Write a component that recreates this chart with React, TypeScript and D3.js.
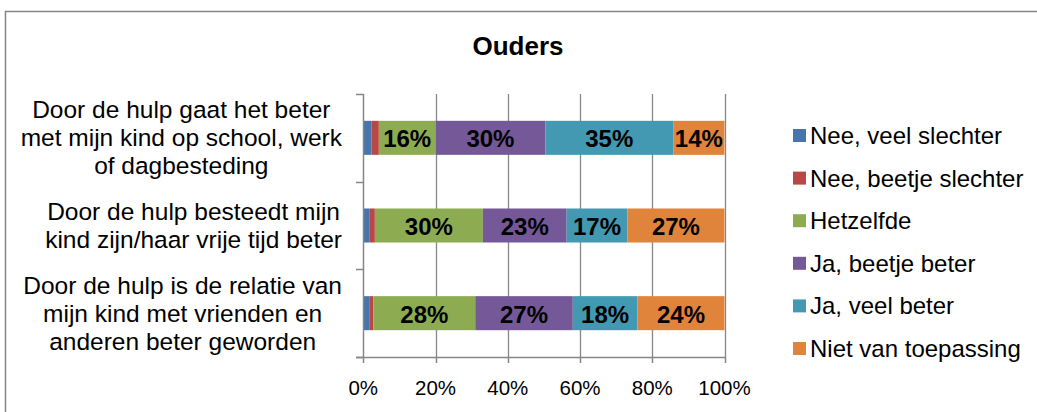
import React, { useEffect, useRef } from "react";
import * as d3 from "d3";

const title = "Ouders";
const categories = [
  "Door de hulp gaat het beter met mijn kind op school, werk of dagbesteding",
  "Door de hulp besteedt mijn kind zijn/haar vrije tijd beter",
  "Door de hulp is de relatie van mijn kind met vrienden en anderen beter geworden",
];
const categoryLines = [
  ["Door de hulp gaat het beter", "met mijn kind op school, werk", "of dagbesteding"],
  ["Door de hulp besteedt mijn", "kind zijn/haar vrije tijd beter"],
  ["Door de hulp is de relatie van", "mijn kind met vrienden en", "anderen beter geworden"],
];
const seriesNames = [
  "Nee, veel slechter",
  "Nee, beetje slechter",
  "Hetzelfde",
  "Ja, beetje beter",
  "Ja, veel beter",
  "Niet van toepassing",
];
const neeVeelSlechter = [2.3, 1.8, 1.8];
const neeBeetjeSlechter = [2.0, 1.4, 1.0];
const hetzelfde = [15.7, 29.9, 28.2];
const jaBeetjeBeter = [30.4, 23.2, 27.0];
const jaVeelBeter = [35.4, 16.8, 17.9];
const nietVanToepassing = [14.2, 26.9, 24.1];
const seriesColors = ["#4675AE", "#B84745", "#8DAC52", "#745898", "#4299B1", "#E0843C"];
const xTicks = [0, 20, 40, 60, 80, 100];

const W = 1037;
const H = 412;
const FONT = "'Liberation Sans', Arial, sans-serif";

export default function App() {
  const ref = useRef<SVGSVGElement | null>(null);

  useEffect(() => {
    const svg = d3.select(ref.current);
    svg.selectAll("*").remove();

    const series = [neeVeelSlechter, neeBeetjeSlechter, hetzelfde, jaBeetjeBeter, jaVeelBeter, nietVanToepassing];
    const table = categories.map((c, i) => {
      const row: any = { cat: c };
      seriesNames.forEach((s, j) => (row[s] = series[j][i]));
      return row;
    });
    const stacked = d3.stack().keys(seriesNames)(table);

    const x = d3.scaleLinear().domain([0, 100]).range([363.3, 724.5]);
    const plotTop = 94;
    const plotBottom = 357;
    const y = d3
      .scaleBand<string>()
      .domain(categories)
      .range([plotTop, plotBottom])
      .paddingInner(0.612)
      .paddingOuter(0.306);

    // border
    svg
      .append("rect")
      .attr("x", 5.5)
      .attr("y", 11.5)
      .attr("width", W)
      .attr("height", H)
      .attr("fill", "#fff")
      .attr("stroke", "#868686")
      .attr("stroke-width", 1.5);

    // title
    svg
      .append("text")
      .attr("x", 518)
      .attr("y", 46)
      .attr("text-anchor", "middle")
      .attr("dominant-baseline", "central")
      .attr("font-family", FONT)
      .attr("font-weight", "bold")
      .attr("font-size", 26)
      .attr("fill", "#000")
      .text(title);

    // gridlines
    svg
      .append("g")
      .selectAll("line")
      .data(xTicks.filter((t) => t > 0))
      .join("line")
      .attr("x1", (d) => Math.round(x(d)) + 0.5)
      .attr("x2", (d) => Math.round(x(d)) + 0.5)
      .attr("y1", plotTop)
      .attr("y2", plotBottom)
      .attr("stroke", "#868686")
      .attr("stroke-width", 1.3);

    // bars
    const g = svg.append("g");
    stacked.forEach((layer, j) => {
      g.append("g")
        .selectAll("rect")
        .data(layer)
        .join("rect")
        .attr("x", (d) => x(d[0]))
        .attr("width", (d) => x(d[1]) - x(d[0]))
        .attr("y", (d) => y((d as any).data.cat)!)
        .attr("height", y.bandwidth())
        .attr("fill", seriesColors[j]);
    });

    // data labels
    stacked.forEach((layer) => {
      g.append("g")
        .selectAll("text")
        .data(layer.filter((d) => d[1] - d[0] >= 10))
        .join("text")
        .attr("x", (d) => (x(d[0]) + x(d[1])) / 2)
        .attr("y", (d) => y((d as any).data.cat)! + y.bandwidth() / 2 + 1)
        .attr("text-anchor", "middle")
        .attr("dominant-baseline", "central")
        .attr("font-family", FONT)
        .attr("font-weight", "bold")
        .attr("font-size", 24)
        .attr("fill", "#000")
        .text((d) => `${Math.round(d[1] - d[0])}%`);
    });

    // axes
    const axisColor = "#868686";
    svg
      .append("line")
      .attr("x1", 363.5)
      .attr("x2", 363.5)
      .attr("y1", plotTop)
      .attr("y2", plotBottom)
      .attr("stroke", axisColor)
      .attr("stroke-width", 1.5);
    svg
      .append("line")
      .attr("x1", 356)
      .attr("x2", x(100) + 1)
      .attr("y1", plotBottom + 0.5)
      .attr("y2", plotBottom + 0.5)
      .attr("stroke", axisColor)
      .attr("stroke-width", 1.5);
    const catTicks = d3.range(categories.length + 1).map((i) => plotTop + i * y.step());
    svg
      .append("g")
      .selectAll("line")
      .data(catTicks)
      .join("line")
      .attr("x1", 356)
      .attr("x2", 364)
      .attr("y1", (d) => Math.round(d) + 0.5)
      .attr("y2", (d) => Math.round(d) + 0.5)
      .attr("stroke", axisColor)
      .attr("stroke-width", 1.5);
    svg
      .append("g")
      .selectAll("line")
      .data(xTicks)
      .join("line")
      .attr("x1", (d) => Math.round(x(d)) + 0.5)
      .attr("x2", (d) => Math.round(x(d)) + 0.5)
      .attr("y1", plotBottom)
      .attr("y2", plotBottom + 6)
      .attr("stroke", axisColor)
      .attr("stroke-width", 1.5);
    svg
      .append("g")
      .selectAll("text")
      .data(xTicks)
      .join("text")
      .attr("x", (d) => x(d))
      .attr("y", 387)
      .attr("text-anchor", "middle")
      .attr("dominant-baseline", "central")
      .attr("font-family", FONT)
      .attr("font-size", 20.5)
      .attr("fill", "#000")
      .text((d) => `${d}%`);

    // category labels
    const lineH = 28;
    categoryLines.forEach((lines, i) => {
      const cy = y(categories[i])! + y.bandwidth() / 2;
      const grp = svg.append("g");
      const texts = lines.map((ln) =>
        grp
          .append("text")
          .attr("text-anchor", "middle")
          .attr("dominant-baseline", "central")
          .attr("font-family", FONT)
          .attr("font-size", 24.5)
          .attr("fill", "#000")
          .text(ln)
      );
      let maxW = 0;
      texts.forEach((t) => {
        const w = (t.node() as SVGTextElement).getComputedTextLength();
        if (w > maxW) maxW = w;
      });
      const cx = 342 - maxW / 2;
      texts.forEach((t, k) => {
        const ly = cy + (k - (lines.length - 1) / 2) * lineH;
        t.attr("x", cx).attr("y", ly);
      });
    });

    // legend
    const legStart = 135.5;
    const legStep = 42.6;
    const leg = svg.append("g");
    seriesNames.forEach((s, j) => {
      const ly = legStart + j * legStep;
      leg
        .append("rect")
        .attr("x", 793)
        .attr("y", ly - 6.5)
        .attr("width", 13)
        .attr("height", 13)
        .attr("fill", seriesColors[j]);
      leg
        .append("text")
        .attr("x", 810)
        .attr("y", ly)
        .attr("dominant-baseline", "central")
        .attr("font-family", FONT)
        .attr("font-size", 24)
        .attr("fill", "#000")
        .text(s);
    });
  }, []);

  return (
    <svg
      ref={ref}
      width={W}
      height={H}
      style={{ position: "absolute", left: 0, top: 0, display: "block", background: "#fff" }}
    />
  );
}
